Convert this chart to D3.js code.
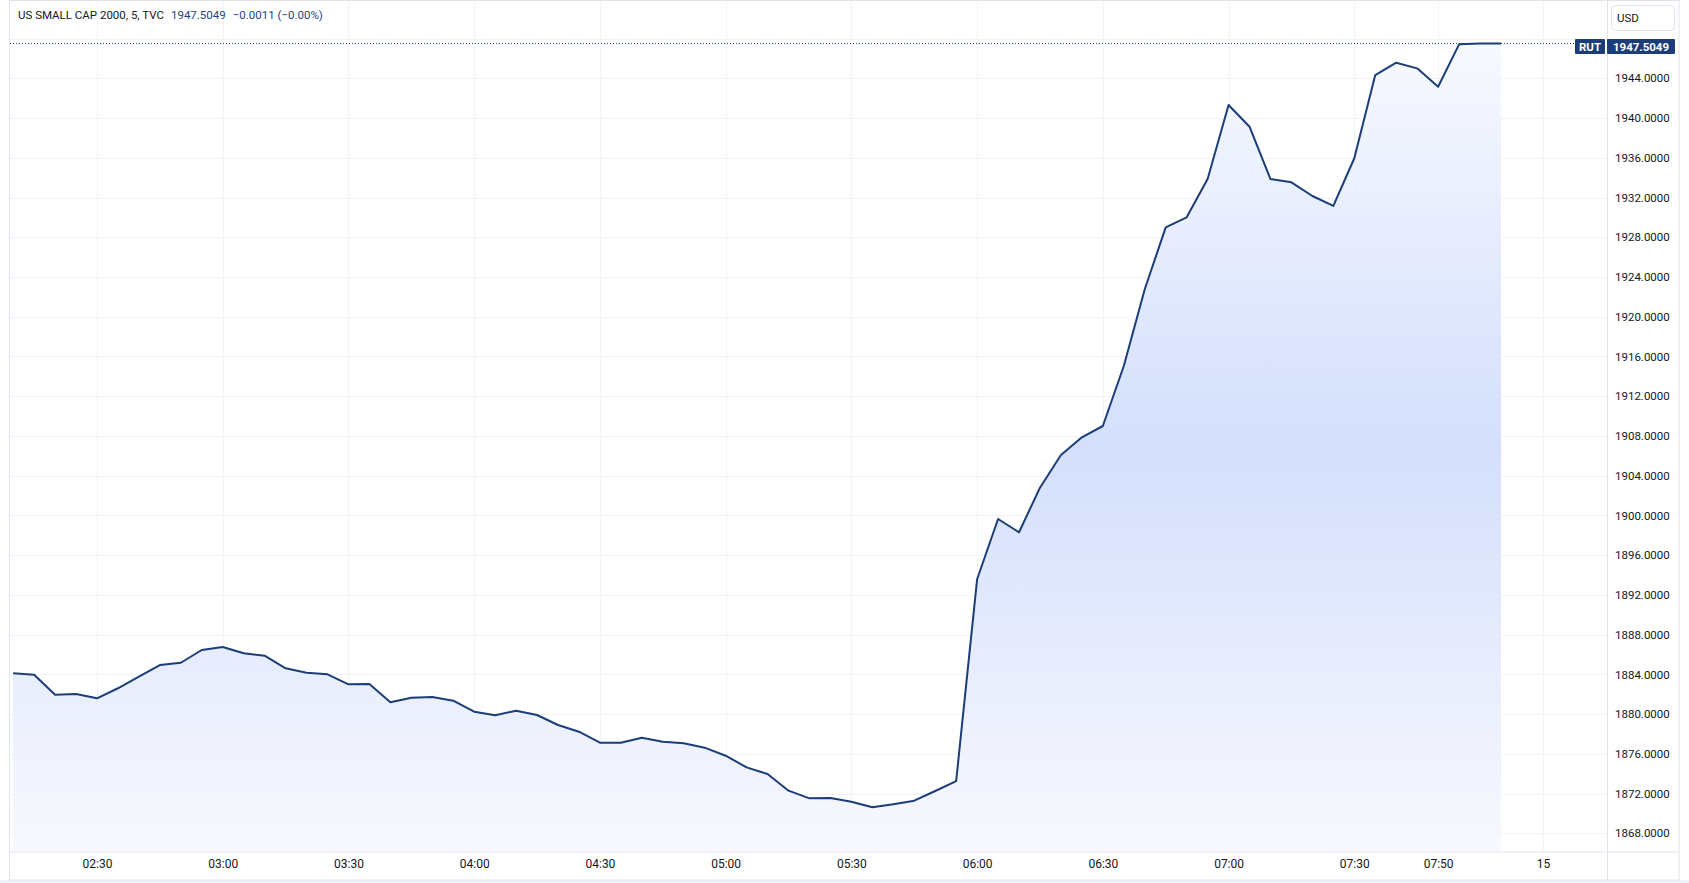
<!DOCTYPE html>
<html>
<head>
<meta charset="utf-8">
<script src="https://cdn.jsdelivr.net/npm/d3@7/dist/d3.min.js"></script>
<style>
  html, body { margin: 0; padding: 0; background: #ffffff; }
  svg { display: block; font-family: Roboto, "Liberation Sans", sans-serif; }
</style>
</head>
<body>
<svg id="chart" width="1689" height="883"></svg>
<script>
// ---------- data ----------
const startTime = "02:10";           // first bar, 5-minute interval
const intervalMinutes = 5;
const closes = [
  1884.10, 1883.96, 1881.95, 1882.02, 1881.59, 1882.60, 1883.76, 1884.94, 1885.17, 1886.45,
  1886.75, 1886.12, 1885.88, 1884.61, 1884.17, 1884.00, 1883.00, 1883.03, 1881.19, 1881.65,
  1881.72, 1881.35, 1880.24, 1879.88, 1880.34, 1879.91, 1878.90, 1878.23, 1877.12, 1877.12,
  1877.62, 1877.22, 1877.06, 1876.62, 1875.81, 1874.64, 1873.97, 1872.29, 1871.52, 1871.55,
  1871.18, 1870.62, 1870.92, 1871.28, 1872.26, 1873.26, 1893.57, 1899.64, 1898.30, 1902.79,
  1906.08, 1907.86, 1909.00, 1915.04, 1922.76, 1929.00, 1930.01, 1933.86, 1941.31, 1939.13,
  1933.86, 1933.53, 1932.15, 1931.15, 1935.95, 1944.33, 1945.57, 1945.00, 1943.15, 1947.42,
  1947.506, 1947.5049
];
const timeTickTimes  = ["02:30","03:00","03:30","04:00","04:30","05:00","05:30","06:00","06:30","07:00","07:30","07:50","08:15"];
const timeTickLabels = ["02:30","03:00","03:30","04:00","04:30","05:00","05:30","06:00","06:30","07:00","07:30","07:50","15"];
const priceTicks = [1868,1872,1876,1880,1884,1888,1892,1896,1900,1904,1908,1912,1916,1920,1924,1928,1932,1936,1940,1944,1948];
const titleText = "US SMALL CAP 2000, 5, TVC";
const lastPrice = 1947.5049;
const changeText = "\u22120.0011 (\u22120.00%)";
const symbolLabel = "RUT";
const currencyLabel = "USD";

// ---------- helpers ----------
const toDate = s => { const [h,m] = s.split(":").map(Number); return new Date(2000, 0, 14, h, m); };
const t0 = toDate(startTime);
const series = closes.map((v,i) => ({ t: new Date(t0.getTime() + i*intervalMinutes*60000), v }));

// ---------- layout ----------
const paneL = 10, paneR = 1607, paneT = 1, paneB = 851.5;
const frameR = 1679, frameB = 880;
const navy = "#1b3d78", textCol = "#131722", gridCol = "#f0f3fa", borderCol = "#e0e3eb";

const x = d3.scaleTime()
  .domain([toDate("02:30"), toDate("07:30")])
  .range([97, 1354.3]);
const y = d3.scaleLinear()
  .domain([1868, 1944])
  .range([833.3, 78.3]);

const svg = d3.select("#chart");

// defs
const defs = svg.append("defs");
defs.append("clipPath").attr("id","pane").append("rect")
  .attr("x", paneL).attr("y", paneT).attr("width", paneR-paneL).attr("height", paneB-paneT);
const grad = defs.append("linearGradient").attr("id","areaGrad")
  .attr("gradientUnits","userSpaceOnUse").attr("x1",0).attr("x2",0).attr("y1",y(lastPrice)).attr("y2",paneB);
grad.append("stop").attr("offset","0%").attr("stop-color","#f7f9ff");
grad.append("stop").attr("offset","50%").attr("stop-color","#d4dffc");
grad.append("stop").attr("offset","100%").attr("stop-color","#f8f9fe");

// outside background strip below frame
svg.append("rect").attr("x",0).attr("y",frameB).attr("width",1689).attr("height",883-frameB).attr("fill","#f0f3fa");

const pane = svg.append("g").attr("clip-path","url(#pane)");

// grid
pane.selectAll("line.hgrid").data(priceTicks).join("line")
  .attr("class","hgrid")
  .attr("x1", paneL).attr("x2", paneR)
  .attr("y1", d => Math.round(y(d))+0.5).attr("y2", d => Math.round(y(d))+0.5)
  .attr("stroke", gridCol).attr("stroke-width",1);
pane.selectAll("line.vgrid").data(timeTickTimes).join("line")
  .attr("class","vgrid")
  .attr("x1", d => Math.round(x(toDate(d)))+0.5).attr("x2", d => Math.round(x(toDate(d)))+0.5)
  .attr("y1", paneT).attr("y2", paneB)
  .attr("stroke", gridCol).attr("stroke-width",1);

// area + line
const area = d3.area().x(d => x(d.t)).y0(paneB).y1(d => y(d.v));
const line = d3.line().x(d => x(d.t)).y(d => y(d.v));
pane.append("path").datum(series).attr("d", area).attr("fill","url(#areaGrad)");
pane.append("path").datum(series).attr("d", line)
  .attr("fill","none").attr("stroke", navy).attr("stroke-width",2).attr("stroke-linejoin","round");

// last price dotted line
const py = y(lastPrice);
svg.append("line").attr("x1", paneL).attr("x2", 1575).attr("y1", py).attr("y2", py)
  .attr("stroke", navy).attr("stroke-width",1).attr("stroke-dasharray","1,2");

// frame & separators
svg.append("rect").attr("x",9.5).attr("y",0.5).attr("width",frameR-9.5).attr("height",frameB-0.5)
  .attr("fill","none").attr("stroke",borderCol);
svg.append("line").attr("x1",paneR+0.5).attr("x2",paneR+0.5).attr("y1",0.5).attr("y2",frameB)
  .attr("stroke",borderCol);
svg.append("line").attr("x1",9.5).attr("x2",frameR).attr("y1",paneB+0.5).attr("y2",paneB+0.5)
  .attr("stroke",borderCol);

// right price axis (labels hidden where the last-price label covers them, as in the chart)
const labelTicks = priceTicks.filter(d => Math.abs(y(d) - py) > 12);
const yAxis = d3.axisRight(y).tickValues(labelTicks).tickSize(0).tickPadding(0)
  .tickFormat(d3.format(".4f"));
const ya = svg.append("g").attr("transform", `translate(${paneR+8},0)`).call(yAxis);
ya.select(".domain").remove();
ya.selectAll("text").attr("font-size", 11.5).attr("fill", textCol).attr("font-family","Roboto, sans-serif");

// bottom time axis
const xAxis = d3.axisBottom(x).tickValues(timeTickTimes.map(toDate)).tickSize(0).tickPadding(0)
  .tickFormat((d,i) => timeTickLabels[i]);
const xa = svg.append("g").attr("transform", `translate(0,${paneB+8})`).call(xAxis);
xa.select(".domain").remove();
xa.selectAll("text").attr("font-size", 12).attr("fill", textCol).attr("font-family","Roboto, sans-serif");

// USD box
svg.append("rect").attr("x",1611.5).attr("y",5.5).attr("width",63).attr("height",25).attr("rx",4)
  .attr("fill","#ffffff").attr("stroke",borderCol);
svg.append("text").attr("x",1617).attr("y",18).attr("dy","0.35em")
  .attr("font-size",11.5).attr("fill",textCol).text(currencyLabel);

// price labels
svg.append("rect").attr("x",1575).attr("y",39).attr("width",30).attr("height",15).attr("rx",1).attr("fill",navy);
svg.append("text").attr("x",1590).attr("y",46.5).attr("dy","0.35em").attr("text-anchor","middle")
  .attr("font-size",11.5).attr("font-weight",700).attr("fill","#ffffff").text(symbolLabel);
svg.append("rect").attr("x",1607).attr("y",39).attr("width",68).attr("height",15).attr("rx",1).attr("fill",navy);
svg.append("text").attr("x",1641).attr("y",46.5).attr("dy","0.35em").attr("text-anchor","middle")
  .attr("font-size",11.5).attr("font-weight",700).attr("fill","#ffffff").text(d3.format(".4f")(lastPrice));

// title
const title = svg.append("text").attr("x",18).attr("y",15).attr("dy","0.35em")
  .attr("font-size",11.5).attr("fill",textCol);
title.append("tspan").text(titleText);
title.append("tspan").attr("dx",7).attr("fill","#1f4380").text(d3.format(".4f")(lastPrice));
title.append("tspan").attr("dx",7).attr("fill","#1f4380").text(changeText);
</script>
</body>
</html>
